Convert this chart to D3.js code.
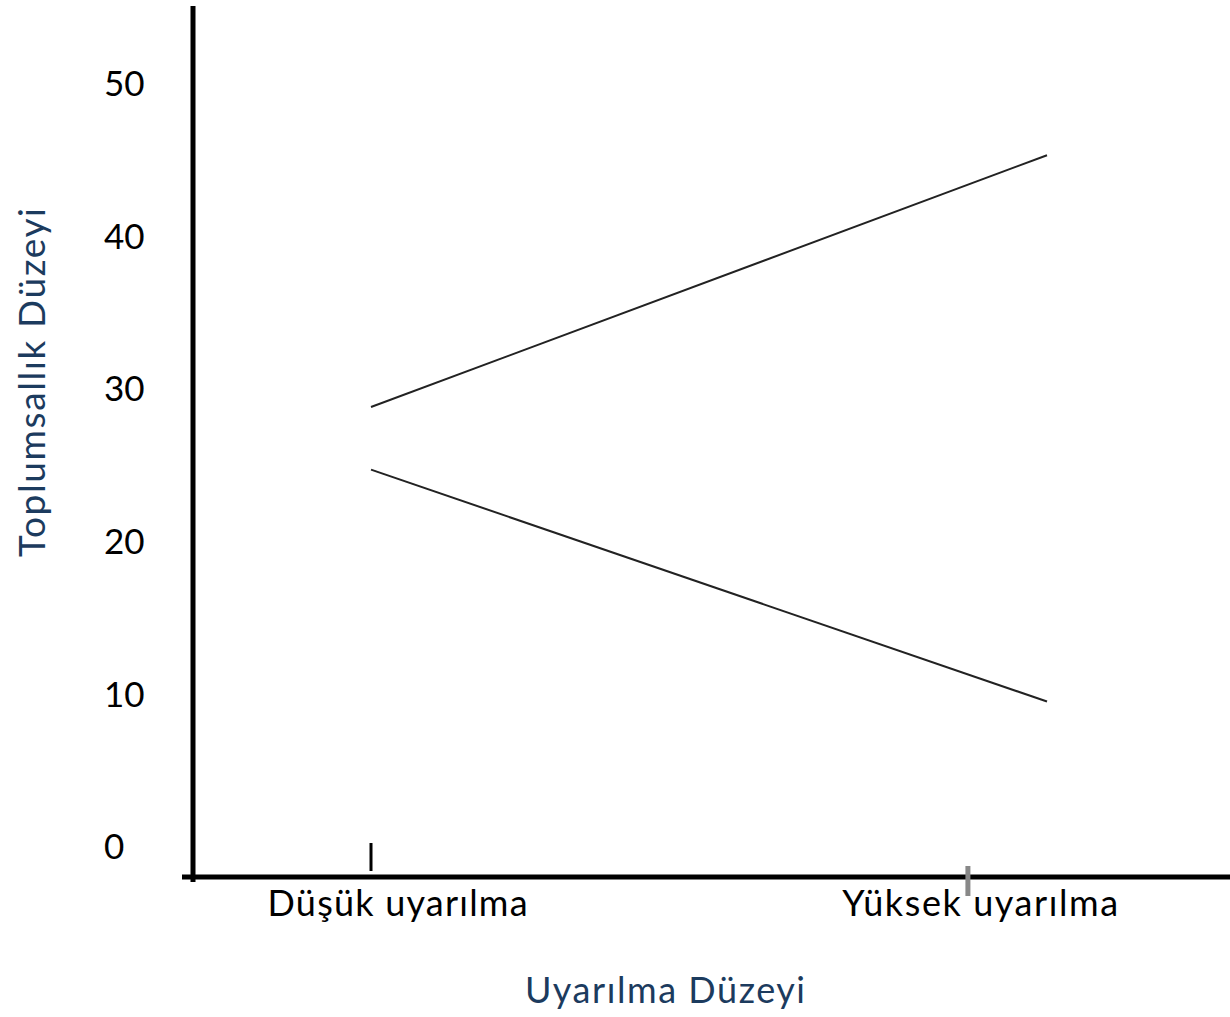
<!DOCTYPE html>
<html>
<head>
<meta charset="utf-8">
<script src="https://cdn.jsdelivr.net/npm/d3@7"></script>
<style>
  html, body { margin: 0; padding: 0; background: #fff; }
  svg { display: block; }
  text { font-family: Lato, "Open Sans", sans-serif; }
</style>
</head>
<body>
<svg id="chart" width="1230" height="1017"></svg>
<script>
// ---- data ----
const categories = ["Düşük uyarılma", "Yüksek uyarılma"];
const seriesUpper = [28.8, 45.3];
const seriesLower = [24.7, 9.5];
const yTickValues = [0, 10, 20, 30, 40, 50];
const xTickPositions = [0, 0.883];      // positions of the small tick marks (category units)
const xLabelPositions = [-0.153, 0.697]; // left edge of category labels (category units)
const xTitle = "Uyarılma Düzeyi";
const yTitle = "Toplumsallık Düzeyi";

const svg = d3.select("#chart");

// scales
const x = d3.scaleLinear().domain([0, 1]).range([371, 1047]);
const y = d3.scaleLinear().domain([0, 50]).range([846.5, 83.5]);

// axes lines
svg.append("line")
  .attr("x1", 193).attr("x2", 193)
  .attr("y1", 6).attr("y2", 882)
  .attr("stroke", "#000").attr("stroke-width", 5);
svg.append("line")
  .attr("x1", 182).attr("x2", 1230)
  .attr("y1", 877).attr("y2", 877)
  .attr("stroke", "#000").attr("stroke-width", 5);

// y tick labels (left aligned)
svg.selectAll("text.ytick").data(yTickValues).enter().append("text")
  .attr("class", "ytick")
  .attr("x", 104)
  .attr("y", d => y(d))
  .attr("dy", "0.36em")
  .attr("text-anchor", "start")
  .attr("font-size", 35)
  .attr("fill", "#000")
  .text(d => d);

// x tick marks
svg.append("line")
  .attr("x1", x(xTickPositions[0])).attr("x2", x(xTickPositions[0]))
  .attr("y1", 843).attr("y2", 871)
  .attr("stroke", "#000").attr("stroke-width", 3);
svg.append("line")
  .attr("x1", x(xTickPositions[1])).attr("x2", x(xTickPositions[1]))
  .attr("y1", 866).attr("y2", 896)
  .attr("stroke", "#888").attr("stroke-width", 5);

// x category labels
const labelWidths = [260, 276];
svg.selectAll("text.xlab").data(categories).enter().append("text")
  .attr("class", "xlab")
  .attr("x", (d, i) => x(xLabelPositions[i]))
  .attr("y", 916)
  .attr("font-size", 36)
  .attr("textLength", (d, i) => labelWidths[i])
  .attr("lengthAdjust", "spacing")
  .attr("fill", "#000")
  .text(d => d);

// lines
const line = d3.line().x((d, i) => x(i)).y(d => y(d));
[seriesUpper, seriesLower].forEach(s => {
  svg.append("path")
    .datum(s)
    .attr("d", line)
    .attr("fill", "none")
    .attr("stroke", "#222")
    .attr("stroke-width", 2);
});

// axis titles
svg.append("text")
  .attr("x", 525).attr("y", 1003)
  .attr("text-anchor", "start")
  .attr("font-size", 36)
  .attr("textLength", 280)
  .attr("lengthAdjust", "spacing")
  .attr("fill", "#1c3b5e")
  .text(xTitle);

svg.append("text")
  .attr("transform", "translate(45,557) rotate(-90)")
  .attr("text-anchor", "start")
  .attr("font-size", 37)
  .attr("textLength", 349)
  .attr("lengthAdjust", "spacing")
  .attr("fill", "#1c3b5e")
  .text(yTitle);
</script>
</body>
</html>
